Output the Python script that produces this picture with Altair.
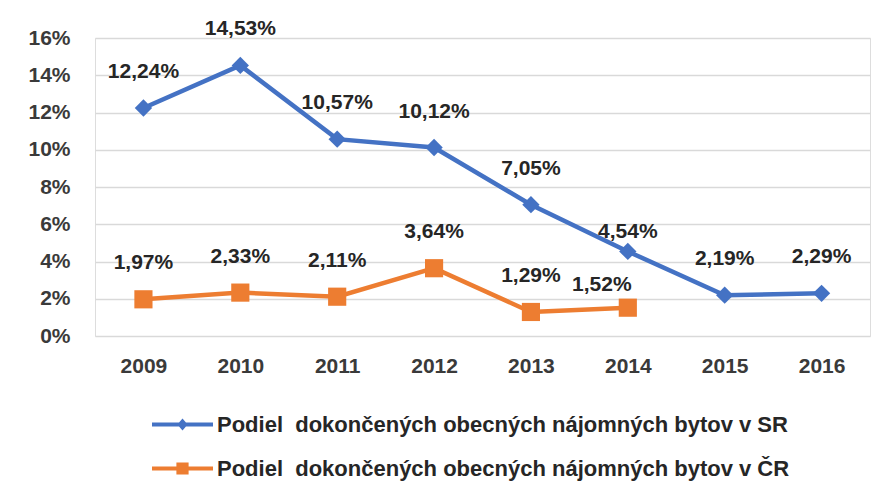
import altair as alt
import pandas as pd

years = ["2009", "2010", "2011", "2012", "2013", "2014", "2015", "2016"]
sr_values = [12.24, 14.53, 10.57, 10.12, 7.05, 4.54, 2.19, 2.29]
cr_years = ["2009", "2010", "2011", "2012", "2013", "2014"]
cr_values = [1.97, 2.33, 2.11, 3.64, 1.29, 1.52]
sr_name = "Podiel\u00a0 dokončených obecných nájomných bytov v SR"
cr_name = "Podiel\u00a0 dokončených obecných nájomných bytov v ČR"
y_ticks = [0, 2, 4, 6, 8, 10, 12, 14, 16]

BLUE = "#4472C4"
ORANGE = "#ED7D31"
FONT = "Liberation Sans"
FS = 21


def fmt(v):
    return f"{v:.2f}".replace(".", ",") + "%"


sr_df = pd.DataFrame({"year": years, "value": sr_values, "series": sr_name,
                      "label": [fmt(v) for v in sr_values]})
cr_df = pd.DataFrame({"year": cr_years, "value": cr_values, "series": cr_name,
                      "label": [fmt(v) for v in cr_values]})

x_enc = alt.X("year:O", sort=years, scale=alt.Scale(type="point", padding=0.5, domain=years),
              axis=alt.Axis(title=None, labelAngle=0, labelFont=FONT, labelFontSize=FS,
                            labelFontWeight="bold", labelColor="#3a3a3a", labelPadding=19,
                            ticks=False, domain=False, grid=False))
y_enc = alt.Y("value:Q", scale=alt.Scale(domain=[0, 16], nice=False),
              axis=alt.Axis(title=None, values=y_ticks, labelExpr="datum.value + '%'",
                            labelFont=FONT, labelFontSize=FS, labelFontWeight="bold",
                            labelColor="#3a3a3a", labelPadding=25, ticks=False, domain=False,
                            grid=True, gridColor="#d9d9d9", gridWidth=1.5))

path_diamond = "M-1,-0.065L1,-0.065L1,0.065L-1,0.065Z M0,-0.2L0.17,0L0,0.2L-0.17,0Z"
path_square = "M-1,-0.065L1,-0.065L1,0.065L-1,0.065Z M-0.2,-0.2L0.2,-0.2L0.2,0.2L-0.2,0.2Z"


def series_layer(df, color, shape, msize, sym_path, ly, special):
    scale = alt.Scale(domain=[df["series"].iloc[0]], range=[color])
    base = alt.Chart(df).encode(x=x_enc, y=y_enc)
    leg = alt.Legend(title=None, orient="none", legendX=57, legendY=ly,
                     symbolType=sym_path, symbolSize=3721, labelFont=FONT, labelFontSize=22,
                     labelFontWeight="bold", labelColor="#262626", labelOffset=4, padding=0,
                     labelLimit=0, symbolFillColor=color, symbolStrokeWidth=0)
    line = base.mark_line(strokeWidth=4.5).encode(color=alt.Color("series:N", scale=scale, legend=leg))
    pts = base.mark_point(filled=True, shape=shape, size=msize, opacity=1).encode(
        color=alt.Color("series:N", scale=scale, legend=leg))
    layers = [line, pts]
    normal = base.transform_filter(
        alt.FieldOneOfPredicate(field="year", oneOf=[y for y in df["year"] if y not in special])
    ).mark_text(font=FONT, fontSize=FS, fontWeight="bold", color="#262626", dy=-36).encode(text="label:N")
    layers.append(normal)
    for yr, (dx, dy) in special.items():
        layers.append(base.transform_filter(alt.datum.year == yr).mark_text(
            font=FONT, fontSize=FS, fontWeight="bold", color="#262626", dx=dx, dy=dy
        ).encode(text="label:N"))
    return alt.layer(*layers)


sr_layer = series_layer(sr_df, BLUE, "diamond", 300, path_diamond, 356, {"2014": (0, -19)})
cr_layer = series_layer(cr_df, ORANGE, "square", 330, path_square, 400, {"2014": (-26, -23)})

chart = alt.layer(sr_layer, cr_layer).resolve_scale(color="independent").resolve_legend(
    color="independent").properties(
    width=775, height=298,
    autosize=alt.AutoSizeParams(type="none"),
    padding={"left": 87, "top": 30, "right": 18, "bottom": 150},
).configure_view(stroke=None).configure(background="white")

chart.save("out.html", embed_options={"renderer": "svg", "actions": False})
